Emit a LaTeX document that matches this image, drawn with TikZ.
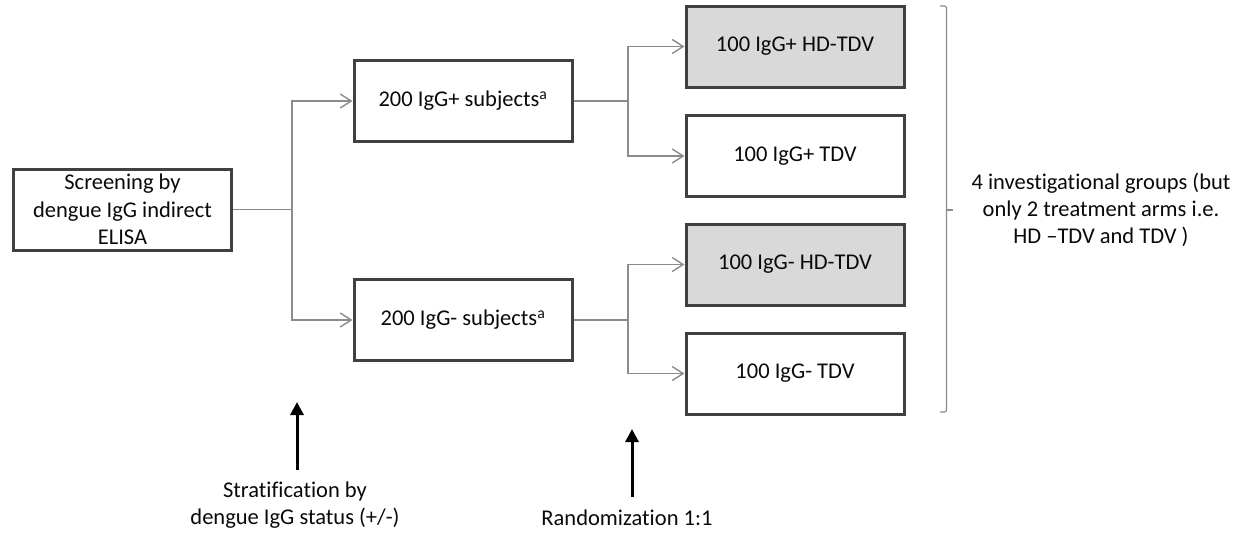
\documentclass[tikz,border=0pt]{standalone}
\usepackage{fontspec}
\setmainfont{Carlito}[Ligatures=NoCommon]
\usetikzlibrary{arrows.meta}
\definecolor{boxline}{HTML}{404040}
\definecolor{connline}{HTML}{8C8C8C}
\definecolor{boxfill}{HTML}{D9D9D9}
\definecolor{txt}{HTML}{0A0A0A}
\tikzset{
  flowbox/.style={draw=boxline, line width=3pt, minimum width=218pt, minimum height=81pt,
    inner sep=0pt, align=center, text=txt, font=\fontsize{22.5}{27.5}\selectfont},
  shaded/.style={flowbox, fill=boxfill},
  conn/.style={draw=connline, line width=1.4pt},
  connarrow/.style={conn, -{Straight Barb[length=11pt,width=14pt,line width=1.4pt]}},
  bigarrow/.style={draw=black, line width=3pt, -{Triangle[length=13pt,width=13pt]}},
  note/.style={align=center, text=txt, inner sep=0pt, font=\fontsize{22.5}{27}\selectfont},
}
\begin{document}
\begin{tikzpicture}[x=1pt,y=-1pt]
\useasboundingbox (0,0) rectangle (1247,533);
\fill[white] (0,0) rectangle (1247,533);

% boxes
\node[flowbox] (scr) at (122.5,209.5) {Screening by\\dengue IgG indirect\\ELISA};
\node[flowbox] (pos) at (463,101) {200 IgG+ subjects\textsuperscript{a}};
\node[flowbox] (neg) at (463,320) {200 IgG- subjects\textsuperscript{a}};
\node[shaded] (pHD) at (795,46.5) {100 IgG+ HD-TDV};
\node[flowbox] (pT) at (795,156) {100 IgG+ TDV};
\node[shaded] (nHD) at (795,264.5) {100 IgG- HD-TDV};
\node[flowbox] (nT) at (795,373.5) {100 IgG- TDV};

% junctions
\coordinate (j1) at (292,209.5);
\coordinate (j2) at (628,101);
\coordinate (j3) at (628,320);

\draw[conn] (scr.east) -- (j1);
\draw[connarrow] (j1) |- (pos.west);
\draw[connarrow] (j1) |- (neg.west);
\draw[conn] (pos.east) -- (j2);
\draw[connarrow] (j2) |- (pHD.west);
\draw[connarrow] (j2) |- (pT.west);
\draw[conn] (neg.east) -- (j3);
\draw[connarrow] (j3) |- (nHD.west);
\draw[connarrow] (j3) |- (nT.west);

% brace
\draw[draw=connline, line width=1.2pt, rounded corners=2pt]
  (940,6) -- (946.5,6) -- (946.5,412) -- (940,412);
\draw[draw=connline, line width=1.2pt] (946.5,210) -- (953,210);

\node[note] (grp) at (1101,210) {4 investigational groups (but\\only 2 treatment arms i.e.\\HD –TDV and TDV )};

% bottom notes
\node[note] (strat) at (295,505) {Stratification by\\dengue IgG status (+/-)};
\node[note] (rand) at (627,518) {Randomization 1:1};
\coordinate (s1) at (297,470);
\coordinate (s2) at (297,402);
\coordinate (r1) at (632,497);
\coordinate (r2) at (632,429);
\draw[bigarrow] (s1) -- (s2);
\draw[bigarrow] (r1) -- (r2);
\end{tikzpicture}
\end{document}
